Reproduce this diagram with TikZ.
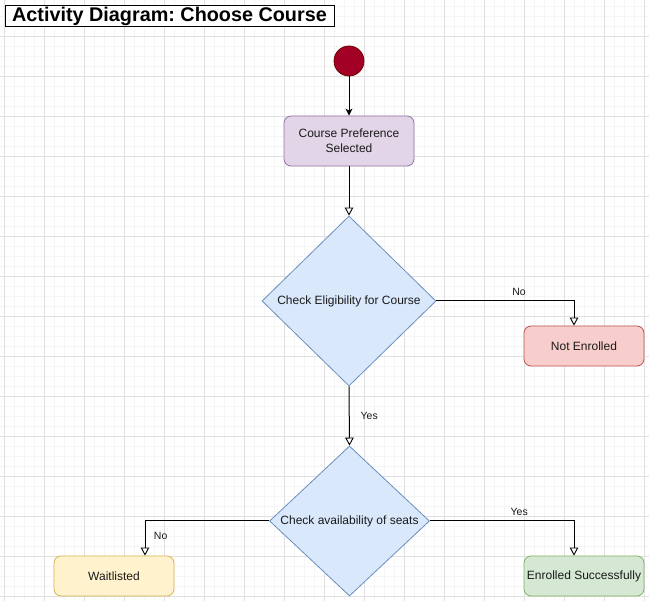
\documentclass[tikz,border=0pt]{standalone}
\usepackage{fontspec}
\setmainfont{Liberation Sans}
\usetikzlibrary{shapes.geometric,arrows.meta}
\frenchspacing

\definecolor{gridminor}{HTML}{F5F5F5}
\definecolor{gridmajor}{HTML}{E0E0E0}
\definecolor{startfill}{HTML}{A20025}
\definecolor{startline}{HTML}{6F0000}
\definecolor{purplefill}{HTML}{E1D5E7}
\definecolor{purpleline}{HTML}{9673A6}
\definecolor{bluefill}{HTML}{DAE8FC}
\definecolor{blueline}{HTML}{6C8EBF}
\definecolor{redfill}{HTML}{F8CECC}
\definecolor{redline}{HTML}{B85450}
\definecolor{yellowfill}{HTML}{FFF2CC}
\definecolor{yellowline}{HTML}{D6B656}
\definecolor{greenfill}{HTML}{D5E8D4}
\definecolor{greenline}{HTML}{82B366}
\definecolor{textdark}{HTML}{1A1A1A}

\begin{document}
\begin{tikzpicture}[
  x=1pt, y=-1pt,
  titlebox/.style={draw=black, line width=1pt, minimum width=329pt, minimum height=21pt,
    inner sep=0pt, font=\bfseries\fontsize{19.8}{20}\selectfont},
  startnode/.style={circle, minimum size=30pt, inner sep=0pt, fill=startfill,
    draw=startline, line width=0.8pt},
  statebox/.style={rectangle, rounded corners=7pt, minimum width=120pt, minimum height=40pt,
    inner sep=0pt, align=center, line width=0.8pt, text=textdark,
    font=\fontsize{12}{14.7}\selectfont},
  decision/.style={diamond, inner sep=0pt, fill=bluefill, draw=blueline, line width=0.8pt,
    text=textdark, font=\fontsize{12}{14.7}\selectfont},
  flow/.style={draw=black, line width=1pt},
  filledtip/.style={-{Stealth[length=7pt, width=7pt, inset=2pt]}},
  opentip/.style={-{Triangle[length=8pt, width=8.5pt, fill=white, line width=0.9pt]}},
  edgelabel/.style={inner sep=0pt, anchor=center, text=textdark,
    font=\fontsize{10.5}{12}\selectfont},
]
\useasboundingbox (0,0) rectangle (649,601);
\fill[white] (0,0) rectangle (649,601);

% background grid
\foreach \gx in {4,14,...,644} \draw[gridminor, line width=0.8pt] (\gx,0) -- (\gx,601);
\foreach \gy in {6,16,...,596} \draw[gridminor, line width=0.8pt] (0,\gy) -- (649,\gy);
\foreach \gx in {4,44,...,644} \draw[gridmajor, line width=0.8pt] (\gx,0) -- (\gx,601);
\foreach \gy in {36,76,...,596} \draw[gridmajor, line width=0.8pt] (0,\gy) -- (649,\gy);

% title
\node[titlebox, fill=white] (title) at (169.5,16.5) {Activity Diagram: Choose Course};

% activity nodes
\node[startnode] (start) at (349,61) {};
\node[statebox, minimum width=130pt, minimum height=50pt, fill=purplefill, draw=purpleline]
  (pref) at (349,141) {Course Preference\\Selected};
\node[decision, minimum width=174pt, minimum height=170pt] (elig) at (349,301)
  {Check Eligibility for Course};
\node[decision, minimum width=160pt, minimum height=150pt] (seats) at (349.5,521)
  {Check availability of seats};
\node[statebox, fill=redfill, draw=redline] (notenr) at (584,346) {Not Enrolled};
\node[statebox, fill=yellowfill, draw=yellowline] (wait) at (114,576) {Waitlisted};
\node[statebox, fill=greenfill, draw=greenline] (enr) at (584,576) {Enrolled Successfully};

% connectors
\draw[flow, filledtip] (start) -- (pref);
\draw[flow, opentip] (pref) -- (elig);
\draw[flow, opentip] (elig.east) -| node[edgelabel, pos=0.3, yshift=9.5pt] {No}
  ([xshift=-10pt]notenr.north);
\draw[flow, opentip] (elig.south) -- node[edgelabel, xshift=20pt] {Yes} (seats.north);
\draw[flow, opentip] (seats.west) -| node[edgelabel, pos=0.714, xshift=15.7pt] {No}
  ([xshift=31pt]wait.north);
\draw[flow, opentip] (seats.east) -| node[edgelabel, pos=0.31, yshift=9.5pt] {Yes}
  ([xshift=-10pt]enr.north);
\end{tikzpicture}
\end{document}
